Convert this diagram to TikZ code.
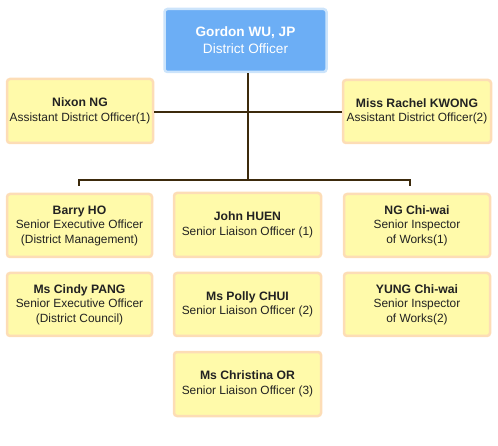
\documentclass[tikz,border=0pt]{standalone}
\usepackage{fontspec}
\setmainfont{Liberation Sans}
\definecolor{boxfill}{HTML}{FFFAAA}
\definecolor{boxedge}{HTML}{FDDDB6}
\definecolor{topfill}{HTML}{6CAEF5}
\definecolor{topedge}{HTML}{CCE4FB}
\definecolor{linec}{HTML}{3C2A0C}
\definecolor{textc}{HTML}{222222}
\newcommand{\nm}[1]{{\bfseries\fontsize{12.2}{14.5}\selectfont #1}}
\begin{document}
\begin{tikzpicture}[x=1pt,y=-1pt,
  ybox/.style={draw=boxedge,fill=boxfill,line width=2.5pt,rounded corners=3pt,
    inner sep=0pt,align=center,text=textc,
    font=\fontsize{11.9}{14.5}\selectfont},
  bbox/.style={draw=topedge,fill=topfill,line width=2.5pt,rounded corners=3pt,
    inner sep=0pt,align=center,text=white,
    font=\fontsize{13.6}{17}\selectfont},
  conn/.style={draw=linec,line width=2pt}]
\useasboundingbox (0,0) rectangle (498,446);
\node[bbox,minimum width=162pt,minimum height=63pt] (top) at (245.5,40.5)
  {{\bfseries Gordon WU, JP}\\District Officer};
\node[ybox,minimum width=146pt,minimum height=64pt] (nixon) at (80,111)
  {\nm{Nixon NG}\\Assistant District Officer(1)};
\node[ybox,minimum width=148pt,minimum height=63pt] (rachel) at (417,111.5)
  {\nm{Miss Rachel KWONG}\\Assistant District Officer(2)};
\node[ybox,minimum width=145pt,minimum height=63pt] (barry) at (79.5,225.5)
  {\nm{Barry HO}\\Senior Executive Officer\\(District Management)};
\node[ybox,minimum width=145pt,minimum height=63pt] (cindy) at (79.5,304.5)
  {\nm{Ms Cindy PANG}\\Senior Executive Officer\\(District Council)};
\node[ybox,minimum width=147pt,minimum height=64pt] (john) at (247.5,225)
  {\nm{John HUEN}\\Senior Liaison Officer (1)};
\node[ybox,minimum width=147pt,minimum height=63pt] (polly) at (247.5,304.5)
  {\nm{Ms Polly CHUI}\\Senior Liaison Officer (2)};
\node[ybox,minimum width=147pt,minimum height=64pt] (christina) at (247.5,384)
  {\nm{Ms Christina OR}\\Senior Liaison Officer (3)};
\node[ybox,minimum width=146pt,minimum height=63pt] (ng) at (417,225.5)
  {\nm{NG Chi-wai}\\Senior Inspector\\of Works(1)};
\node[ybox,minimum width=146pt,minimum height=63pt] (yung) at (417,304.5)
  {\nm{YUNG Chi-wai}\\Senior Inspector\\of Works(2)};
\coordinate (trunk) at (248,180);
\coordinate (mid) at (248,112);
\coordinate (ldrop) at (78.5,186);
\coordinate (rdrop) at (410,186);
\draw[conn] (top.south -| trunk) -- (trunk);
\draw[conn] (nixon.east |- mid) -- (rachel.west |- mid);
\draw[conn] (ldrop) |- (trunk) -| (rdrop);
\end{tikzpicture}
\end{document}
